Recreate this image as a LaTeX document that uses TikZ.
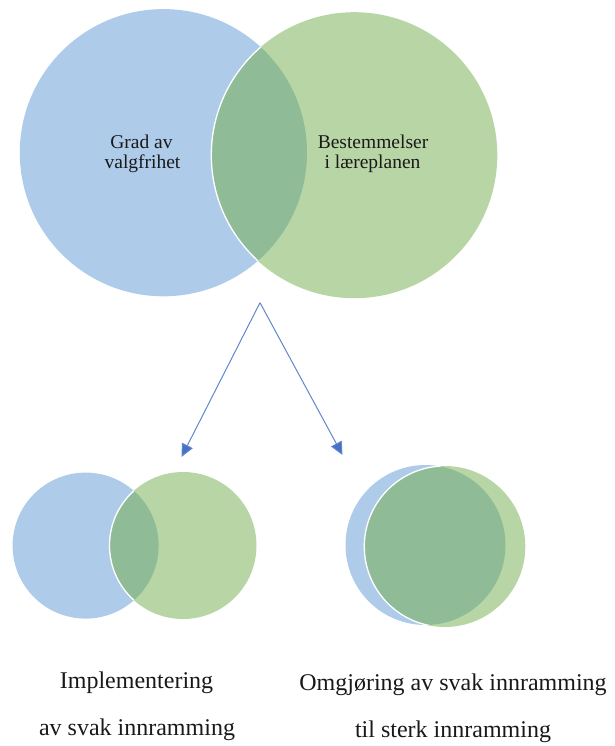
\documentclass[tikz,border=0pt]{standalone}
\usepackage{fontspec}
\setmainfont{Liberation Serif}
\usetikzlibrary{arrows.meta}
\definecolor{vblue}{RGB}{174,204,234}
\definecolor{vgreen}{RGB}{184,214,165}
\definecolor{vinter}{RGB}{143,188,151}
\definecolor{arrowblue}{RGB}{68,114,196}
\tikzset{
  toplabel/.style={anchor=base,inner sep=0pt,font=\fontsize{19.5}{20}\selectfont,text=black!90},
  botlabel/.style={anchor=base,inner sep=0pt,font=\fontsize{24}{26}\selectfont,text=black!90},
  outline/.style={draw=white,line width=1.3pt},
  arr/.style={draw=arrowblue!85,line width=1pt,-{Triangle[length=13pt,width=12pt,fill=arrowblue]}}
}
\begin{document}
\begin{tikzpicture}[x=1pt,y=-1pt]
\useasboundingbox (0,0) rectangle (614,746);
% top Venn
\coordinate (b1) at (163.4,152.7);
\coordinate (g1) at (354.3,155.2);
\fill[vblue] (b1) circle (143.6);
\fill[vgreen] (g1) circle (143);
\begin{scope}
  \clip (b1) circle (143.6);
  \fill[vinter] (g1) circle (143);
  \draw[outline] (g1) circle (143);
\end{scope}
\node[toplabel] (t1) at (141.5,149) {Grad av};
\node[toplabel] (t2) at (142.5,168) {valgfrihet};
\node[toplabel] (t3) at (373,149) {Bestemmelser};
\node[toplabel] (t4) at (372.5,168) {i læreplanen};
% arrows
\coordinate (apex) at (260,302.7);
\coordinate (tipL) at (181.5,457);
\coordinate (tipR) at (342.5,455);
\draw[arr] (apex) -- (tipL);
\draw[arr] (apex) -- (tipR);
% bottom left Venn
\coordinate (b2) at (85.6,545.6);
\coordinate (g2) at (183,545.5);
\fill[vblue] (b2) circle (73);
\fill[vgreen] (g2) circle (73.5);
\begin{scope}
  \clip (b2) circle (73);
  \fill[vinter] (g2) circle (73.5);
  \draw[outline] (g2) circle (73.5);
\end{scope}
% bottom right Venn
\coordinate (b3) at (425.5,545);
\coordinate (g3) at (444.8,546.5);
\fill[vblue] (b3) circle (80);
\fill[vgreen] (g3) circle (80.5);
\begin{scope}
  \clip (b3) circle (80);
  \fill[vinter] (g3) circle (80.5);
  \draw[outline] (g3) circle (80.5);
\end{scope}
% bottom labels
\node[botlabel] (l1) at (136.5,688.3) {Implementering};
\node[botlabel] (l2) at (137,735) {av svak innramming};
\node[botlabel] (r1) at (453,690.5) {Omgjøring av svak innramming};
\node[botlabel] (r2) at (453,737) {til sterk innramming};
\end{tikzpicture}
\end{document}
